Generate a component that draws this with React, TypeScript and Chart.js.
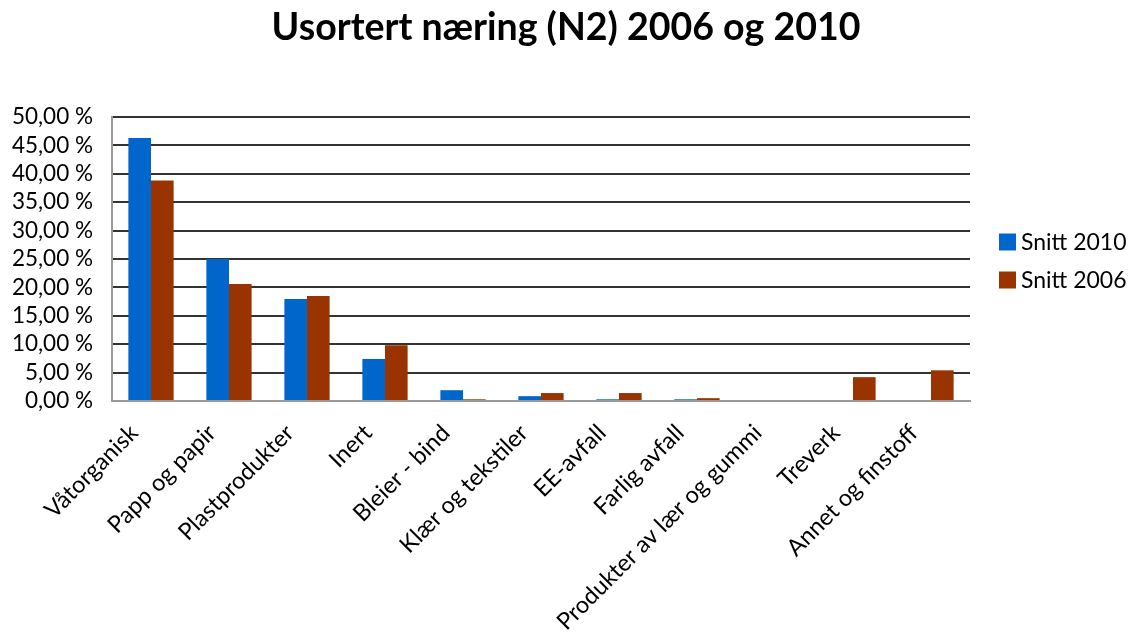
import React, { useEffect, useRef } from "react";
import { Chart, registerables } from "chart.js";

Chart.register(...registerables);

const categories = [
  "Våtorganisk",
  "Papp og papir",
  "Plastprodukter",
  "Inert",
  "Bleier - bind",
  "Klær og tekstiler",
  "EE-avfall",
  "Farlig avfall",
  "Produkter av lær og gummi",
  "Treverk",
  "Annet og finstoff",
];
const snitt2010 = [46.3, 25.0, 17.95, 7.4, 1.9, 0.85, 0.3, 0.3, 0, 0, 0];
const snitt2006 = [38.8, 20.6, 18.5, 9.8, 0.3, 1.4, 1.4, 0.5, 0, 4.2, 5.4];
const seriesNames = ["Snitt 2010", "Snitt 2006"];
const seriesColors = ["#0066CC", "#993300"];
const titleText = "Usortert næring (N2) 2006 og 2010";

const FONT = "Lato, 'Open Sans', sans-serif";

const customTitleLegend = {
  id: "customTitleLegend",
  afterDraw(chart: any) {
    const ctx = chart.ctx;
    ctx.save();
    // title
    ctx.font = `bold 37.5px ${FONT}`;
    ctx.fillStyle = "#000";
    ctx.textAlign = "center";
    ctx.textBaseline = "alphabetic";
    ctx.fillText(titleText, 566, 40);
    // legend
    ctx.font = `23px ${FONT}`;
    ctx.textBaseline = "middle";
    ctx.textAlign = "left";
    const ys = [242, 280];
    chart.data.datasets.forEach((ds: any, i: number) => {
      const y = ys[i];
      ctx.fillStyle = ds.backgroundColor;
      ctx.fillRect(999, y - 8.5, 17, 17);
      ctx.fillStyle = "#000";
      ctx.fillText(ds.label, 1021, y + 1);
    });
    ctx.restore();
  },
};

export default function App() {
  const ref = useRef<HTMLCanvasElement | null>(null);
  useEffect(() => {
    document.body.style.margin = "0";
    const canvas = ref.current!;
    const chart = new Chart(canvas, {
      type: "bar",
      data: {
        labels: categories,
        datasets: [
          {
            label: seriesNames[0],
            data: snitt2010,
            backgroundColor: seriesColors[0],
            categoryPercentage: 0.58,
            barPercentage: 1,
          },
          {
            label: seriesNames[1],
            data: snitt2006,
            backgroundColor: seriesColors[1],
            categoryPercentage: 0.58,
            barPercentage: 1,
          },
        ],
      },
      options: {
        responsive: false,
        animation: false,
        layout: { padding: { top: 117, left: 0, right: 163, bottom: 0 } },
        plugins: {
          legend: { display: false },
          tooltip: { enabled: false },
          title: { display: false },
        },
        scales: {
          x: {
            grid: { display: false },
            border: { display: true, color: "#999", width: 2 },
            ticks: {
              color: "#000",
              font: { family: FONT, size: 23.5 },
              minRotation: 45,
              maxRotation: 45,
              autoSkip: false,
              padding: 10,
              labelOffset: -17,
            },
            afterFit(scale: any) {
              scale.height = 232;
            },
          },
          y: {
            min: 0,
            max: 50,
            grid: {
              color: (c: any) => (c.tick && c.tick.value === 0 ? "rgba(0,0,0,0)" : "#333"),
              lineWidth: 2,
              drawTicks: false,
            },
            border: { display: true, color: "#999", width: 2 },
            ticks: {
              stepSize: 5,
              autoSkip: false,
              color: "#000",
              padding: 19,
              font: { family: FONT, size: 22.5 },
              callback: (v: any) => Number(v).toFixed(2).replace(".", ",") + " %",
            },
            afterFit(scale: any) {
              scale.width = 112;
            },
          },
        },
      },
      plugins: [customTitleLegend],
    });
    return () => chart.destroy();
  }, []);
  return <canvas ref={ref} width={1133} height={633} style={{ display: "block" }} />;
}
